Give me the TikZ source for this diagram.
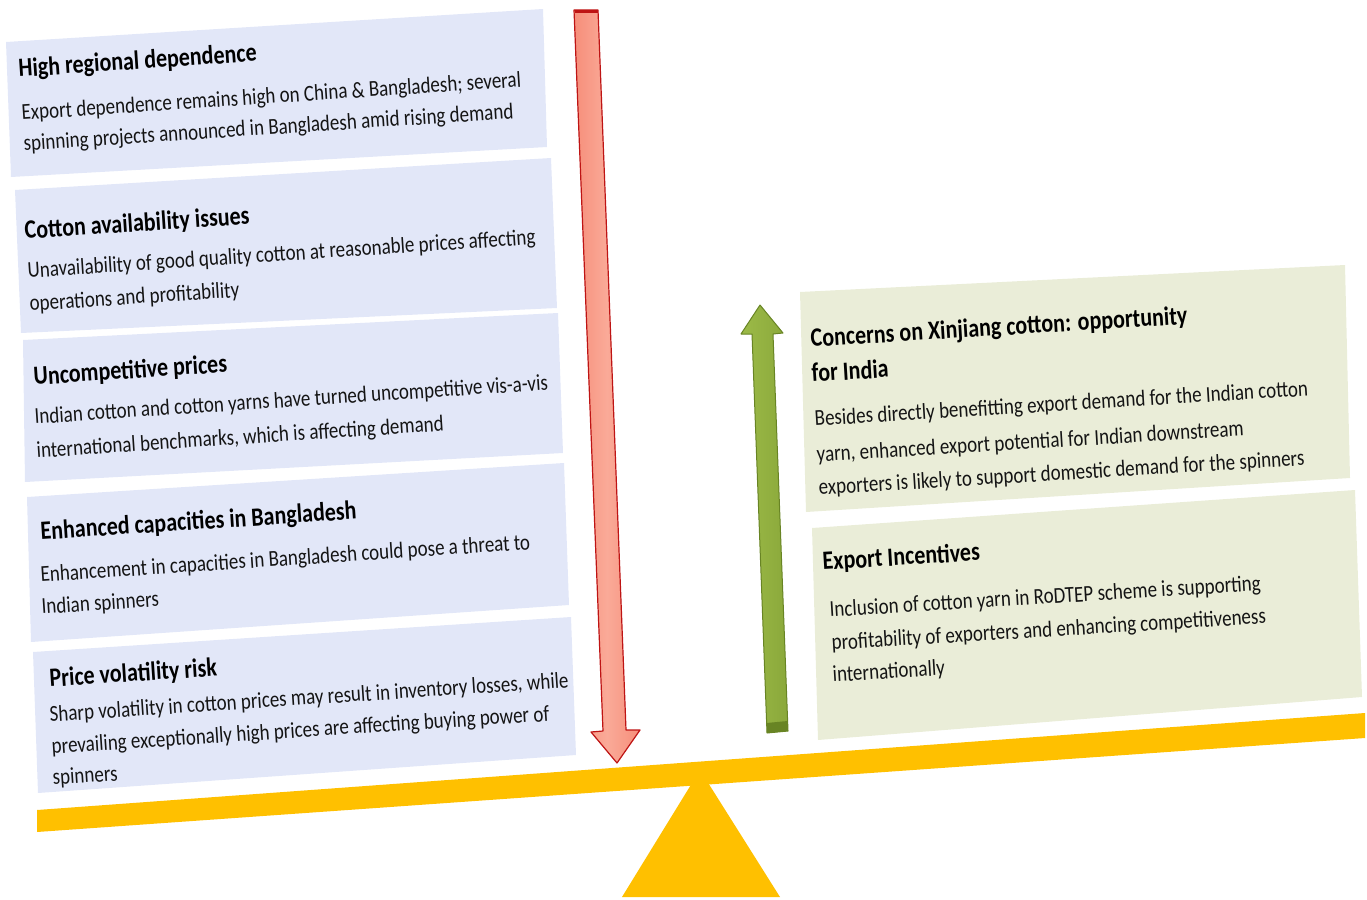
\documentclass[tikz,border=0pt]{standalone}
\usepackage{fontspec}
\setmainfont{Carlito}
\definecolor{leftbox}{RGB}{226,231,248}
\definecolor{rightbox}{RGB}{234,237,216}
\definecolor{redfill}{RGB}{246,142,122}
\definecolor{redlight}{RGB}{250,170,152}
\definecolor{redline}{RGB}{190,20,20}
\definecolor{greenfill}{RGB}{138,168,58}
\definecolor{greenlight}{RGB}{156,186,72}
\definecolor{greenline}{RGB}{104,132,36}
\definecolor{beamcol}{RGB}{255,192,0}
\definecolor{txt}{RGB}{20,20,20}
\tikzset{
  hd/.style={font=\fontsize{22}{26}\selectfont\bfseries, anchor=base west, inner sep=0pt, text=black},
  bd/.style={font=\fontsize{19}{23}\selectfont, anchor=base west, inner sep=0pt, text=txt},
  lt/.style={rotate=3.8, yscale=1.2},
  rt/.style={rotate=3.5, yscale=1.2},
}
\begin{document}
\begin{tikzpicture}[x=1pt,y=-1pt]
\useasboundingbox (0,0) rectangle (1367,899);
% fulcrum and beam
\fill[beamcol] (700,770) -- (622,897) -- (780,897) -- cycle;
\fill[beamcol] (37,810) -- (1365,713) -- (1365,738) -- (37,832) -- cycle;
% left boxes
\fill[leftbox] (6,42) -- (543,9) -- (547,147) -- (11,177) -- cycle;
\fill[leftbox] (15,190) -- (551,158) -- (557,308) -- (21,333) -- cycle;
\fill[leftbox] (23,340) -- (558,313) -- (563,453) -- (25,482) -- cycle;
\fill[leftbox] (27,497) -- (564,463) -- (569,605) -- (31,642) -- cycle;
\fill[leftbox] (33,652) -- (571,617) -- (576,755) -- (38,793) -- cycle;
% right boxes
\fill[rightbox] (800,292) -- (1345,265) -- (1350,478) -- (806,512) -- cycle;
\fill[rightbox] (812,528) -- (1355,490) -- (1362,697) -- (818,740) -- cycle;
% red arrow
\path[left color=redfill, right color=redfill, middle color=redlight]
  (574,10) -- (598,10) -- (626,730) -- (640,730) -- (617,763) -- (591,732) -- (603,731) -- cycle;
\draw[redline, line width=1.2pt, line join=round]
  (574,10) -- (598,10) -- (626,730) -- (640,730) -- (617,763) -- (591,732) -- (603,731) -- cycle;
\draw[redline, line width=3pt] (574.5,12) -- (597.5,12);
% green arrow
\path[left color=greenlight, right color=greenfill]
  (760,305) -- (783,333) -- (773,334) -- (788,731) -- (767,733) -- (752,334) -- (741,334) -- cycle;
\draw[greenline, line width=1pt, line join=round]
  (760,305) -- (783,333) -- (773,334) -- (788,731) -- (767,733) -- (752,334) -- (741,334) -- cycle;
\fill[greenline] (766.6,723) -- (787.6,721) -- (788,731) -- (767,733) -- cycle;
% left texts
\node[hd,lt] (h1) at (19,77) {High regional dependence};
\node[bd,lt] (b1a) at (22,120) {Export dependence remains high on China \& Bangladesh; several};
\node[bd,lt] (b1b) at (24,151) {spinning projects announced in Bangladesh amid rising demand};
\node[hd,lt] (h2) at (25,239) {Cotton availability issues};
\node[bd,lt] (b2a) at (28,278) {Unavailability of good quality cotton at reasonable prices affecting};
\node[bd,lt] (b2b) at (30,311) {operations and profitability};
\node[hd,lt] (h3) at (34,385) {Uncompetitive prices};
\node[bd,lt] (b3a) at (35,424) {Indian cotton and cotton yarns have turned uncompetitive vis-a-vis};
\node[bd,lt] (b3b) at (37,458) {international benchmarks, which is affecting demand};
\node[hd,lt] (h4) at (41,540) {Enhanced capacities in Bangladesh};
\node[bd,lt] (b4a) at (41,582) {Enhancement in capacities in Bangladesh could pose a threat to};
\node[bd,lt] (b4b) at (42,614) {Indian spinners};
\node[hd,lt] (h5) at (50,687) {Price volatility risk};
\node[bd,lt] (b5a) at (50,722) {Sharp volatility in cotton prices may result in inventory losses, while};
\node[bd,lt] (b5b) at (52,754) {prevailing exceptionally high prices are affecting buying power of};
\node[bd,lt] (b5c) at (53,785) {spinners};
% right texts
\node[hd,rt] (h6a) at (811,347) {Concerns on Xinjiang cotton: opportunity};
\node[hd,rt] (h6b) at (812,382) {for India};
\node[bd,rt] (b6a) at (815,426) {Besides directly benefitting export demand for the Indian cotton};
\node[bd,rt] (b6b) at (817,462) {yarn, enhanced export potential for Indian downstream};
\node[bd,rt] (b6c) at (819,495) {exporters is likely to support domestic demand for the spinners};
\node[hd,rt] (h7) at (823,570) {Export Incentives};
\node[bd,rt] (b7a) at (830,617) {Inclusion of cotton yarn in RoDTEP scheme is supporting};
\node[bd,rt] (b7b) at (832,650) {profitability of exporters and enhancing competitiveness};
\node[bd,rt] (b7c) at (833,682) {internationally};
\end{tikzpicture}
\end{document}
